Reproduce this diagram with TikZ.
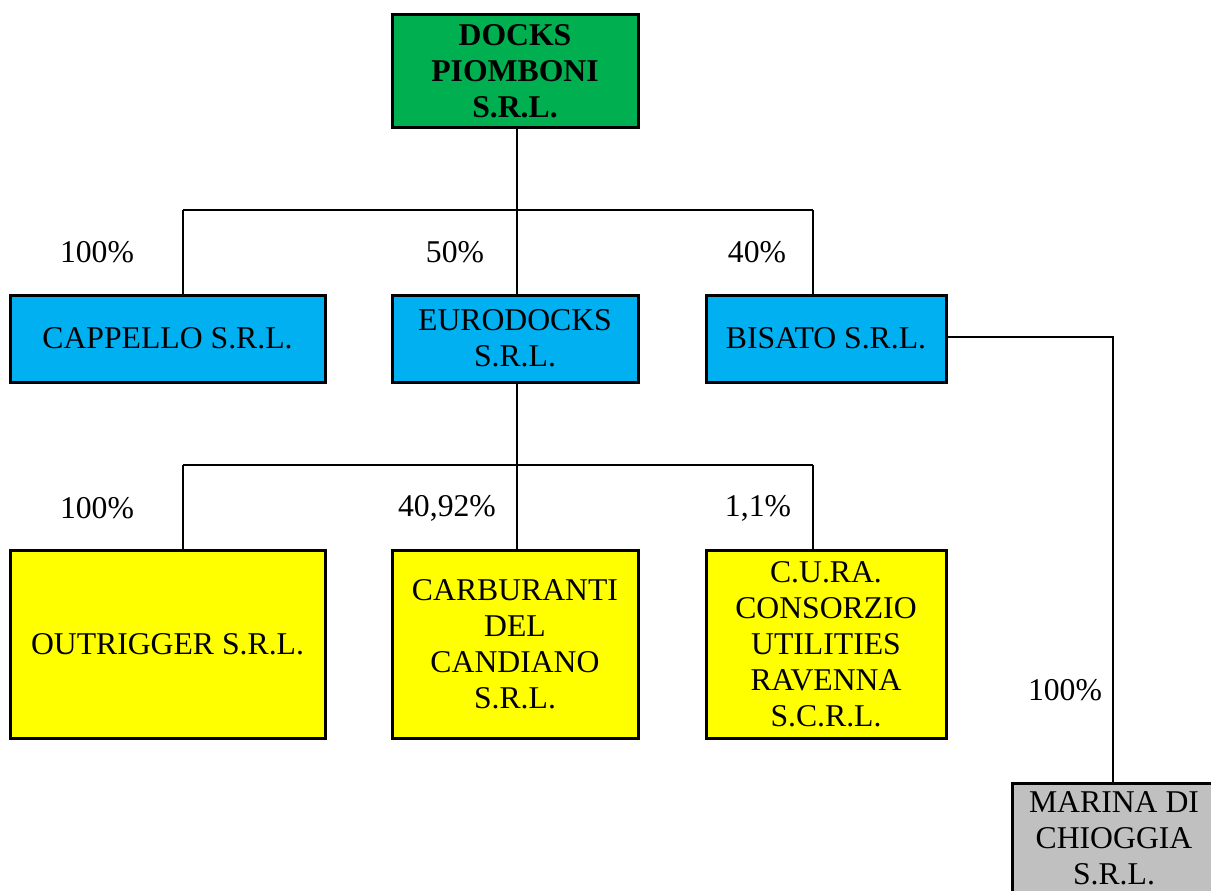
\documentclass[tikz,border=0pt]{standalone}
\usepackage{fontspec}
\setmainfont{Liberation Serif}
\definecolor{cgreen}{HTML}{00B050}
\definecolor{cblue}{HTML}{00B0F0}
\definecolor{cyellow}{HTML}{FFFF00}
\definecolor{cgrey}{HTML}{C0C0C0}
\tikzset{
  box/.style={draw=black, line width=3pt, rectangle, align=center, inner sep=0pt,
    font=\fontsize{31.7}{36}\selectfont},
  conn/.style={draw=black, line width=2pt},
  pct/.style={font=\fontsize{31.7}{36}\selectfont, inner sep=0pt}
}
\begin{document}
\begin{tikzpicture}[x=1pt,y=-1pt]
\clip (0,0) rectangle (1211,891);
\fill[white] (0,0) rectangle (1211,891);
% nodes
\node[box, fill=cgreen, minimum width=246pt, minimum height=112pt, font=\fontsize{31.7}{36}\selectfont\bfseries] (docks) at (515,71) {DOCKS\\PIOMBONI\\S.R.L.};
\node[box, fill=cblue, minimum width=315pt, minimum height=87pt] (cappello) at (167.5,338.5) {CAPPELLO S.R.L.};
\node[box, fill=cblue, minimum width=246pt, minimum height=87pt] (eurodocks) at (515,338.5) {EURODOCKS\\S.R.L.};
\node[box, fill=cblue, minimum width=240pt, minimum height=87pt] (bisato) at (826,338.5) {BISATO S.R.L.};
\node[box, fill=cyellow, minimum width=315pt, minimum height=188pt] (outrigger) at (167.5,644) {OUTRIGGER S.R.L.};
\node[box, fill=cyellow, minimum width=246pt, minimum height=188pt] (carburanti) at (515,644) {CARBURANTI\\DEL\\CANDIANO\\S.R.L.};
\node[box, fill=cyellow, minimum width=240pt, minimum height=188pt] (cura) at (826,644) {C.U.RA.\\CONSORZIO\\UTILITIES\\RAVENNA\\S.C.R.L.};
\node[box, fill=cgrey, minimum width=204pt, minimum height=110pt] (marina) at (1114,838) {MARINA DI\\CHIOGGIA\\S.R.L.};
% bus coordinates
\coordinate (b1m) at (517,210);
\coordinate (b1l) at (183,210);
\coordinate (b1r) at (813,210);
\coordinate (b2m) at (517,465);
\coordinate (b2l) at (183,465);
\coordinate (b2r) at (813,465);
\coordinate (bisR) at (1113,337);
% connectors
\draw[conn] (docks.south -| b1m) -- (b1m);
\draw[conn] (b1l) -- (b1r);
\draw[conn] (b1l) -- (b1l |- cappello.north);
\draw[conn] (b1m) -- (b1m |- eurodocks.north);
\draw[conn] (b1r) -- (b1r |- bisato.north);
\draw[conn] (eurodocks.south -| b2m) -- (b2m);
\draw[conn] (b2l) -- (b2r);
\draw[conn] (b2l) -- (b2l |- outrigger.north);
\draw[conn] (b2m) -- (b2m |- carburanti.north);
\draw[conn] (b2r) -- (b2r |- cura.north);
\draw[conn] (bisato.east |- bisR) -- (bisR) -- (bisR |- marina.north);
% labels
\node[pct] (p1) at (97,252) {100\%};
\node[pct] (p2) at (455,252) {50\%};
\node[pct] (p3) at (757,252) {40\%};
\node[pct] (p4) at (97,508) {100\%};
\node[pct] (p5) at (447,508) {40,92\%};
\node[pct] (p6) at (758,508) {1,1\%};
\node[pct] (p7) at (1065,690) {100\%};
\end{tikzpicture}
\end{document}
